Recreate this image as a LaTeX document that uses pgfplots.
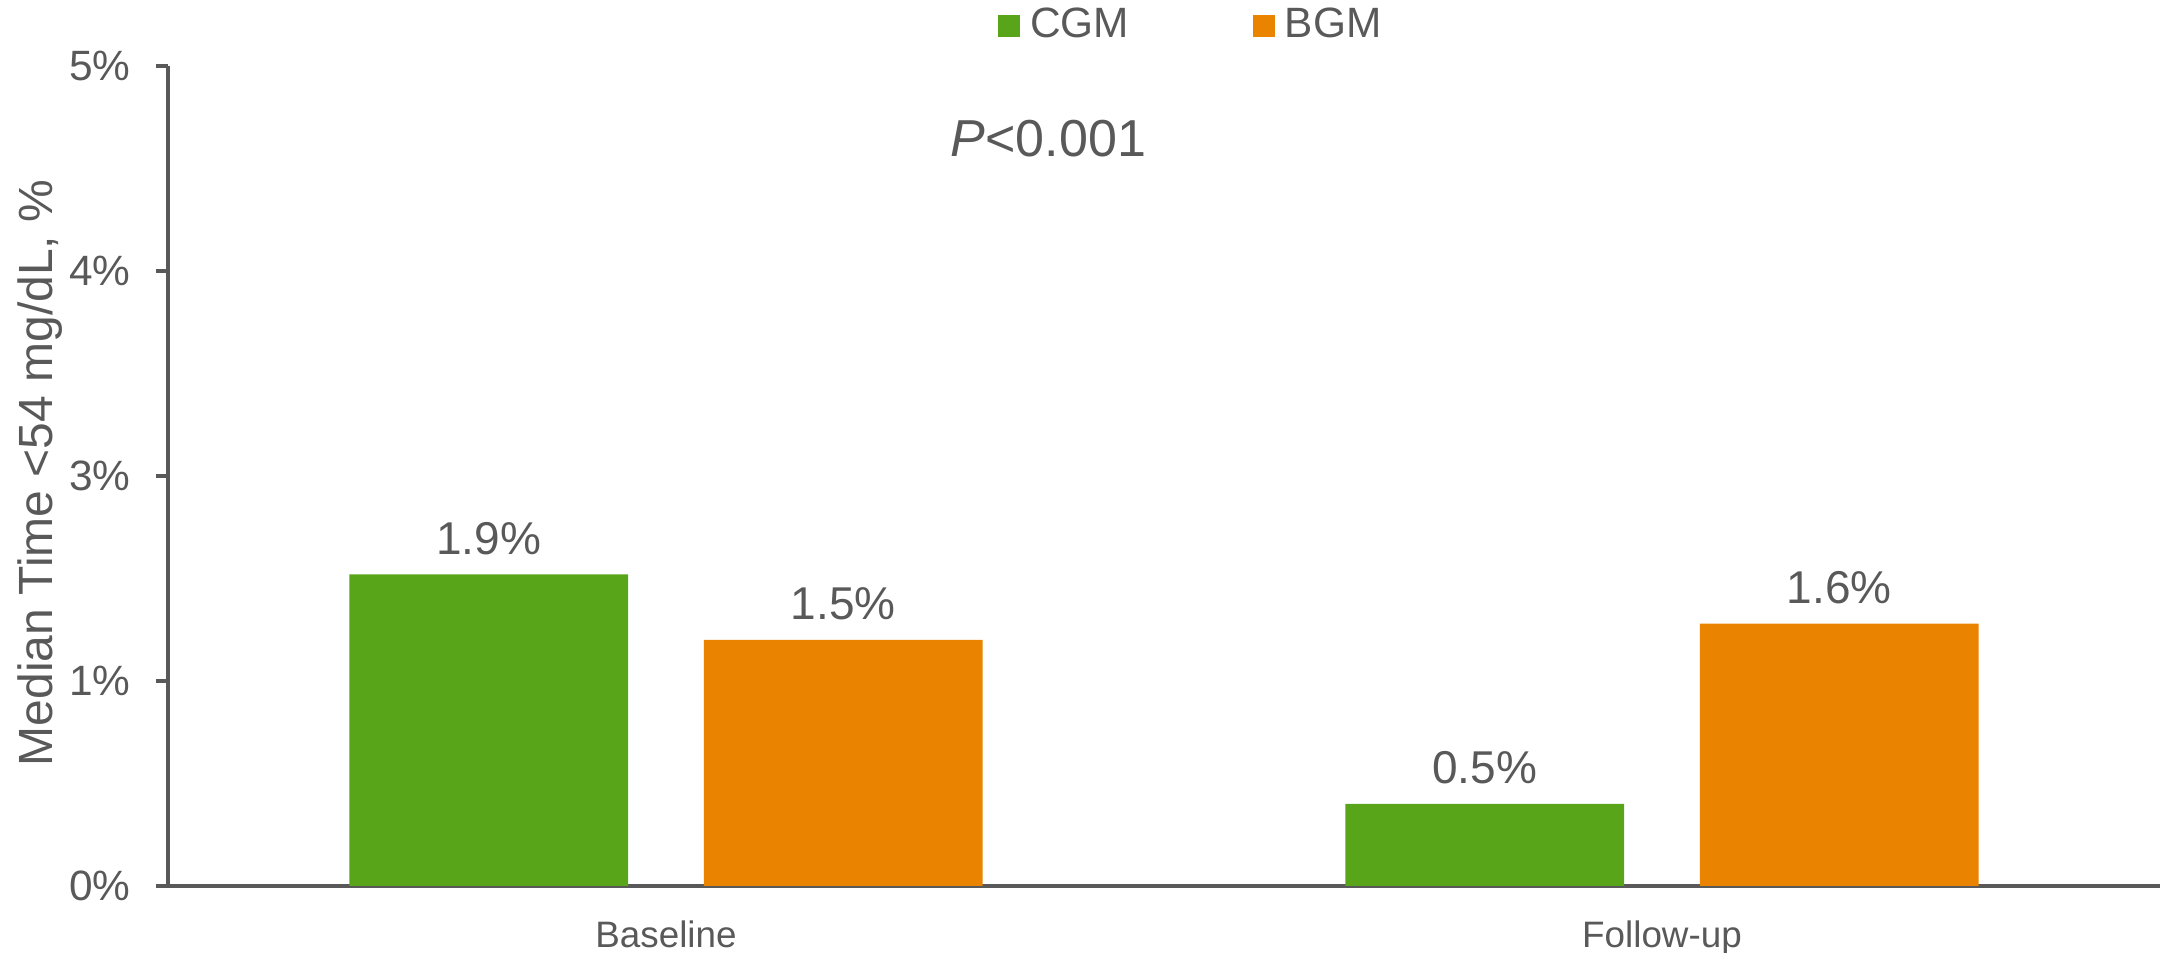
\documentclass[border=0pt]{standalone}
\usepackage{fontspec}
\setmainfont{Liberation Sans}
\usepackage{pgfplots}
\pgfplotsset{compat=1.18}
\definecolor{cgm}{HTML}{59A51A}
\definecolor{bgm}{HTML}{E98300}
\definecolor{txt}{HTML}{595959}

\begin{document}
\begin{tikzpicture}
\begin{axis}[
  name=ax,
  scale only axis,
  width=498pt, height=205pt,
  xmin=-0.5, xmax=1.5,
  ymin=0, ymax=5,
  axis x line=bottom, axis y line=left,
  axis line style={-, draw=txt, line width=0.8pt},
  xtick={0,1}, xticklabels={Baseline,Follow-up},
  xtick style={draw=none},
  xticklabel style={font=\fontsize{9.2}{9.2}\selectfont, text=txt, anchor=base, inner sep=0pt, yshift=-12.5pt},
  % axis runs 0--5 in steps of 1.25, labels rounded to whole percent
  ytick={0,1.25,2.5,3.75,5},
  yticklabels={0\%,1\%,3\%,4\%,5\%},
  ytick style={draw=txt, line width=0.8pt},
  tick align=outside, major tick length=3pt,
  yticklabel style={font=\fontsize{10.6}{10.6}\selectfont, text=txt, anchor=east, inner sep=0pt, xshift=-6.2pt},
  ylabel={Median Time <54 mg/dL, \%},
  ylabel style={font=\fontsize{12}{12}\selectfont, text=txt, at={(axis description cs:-0.0582,0.5037)}, anchor=base, inner sep=0pt},
  ybar, bar width=0.28,
  /pgf/number format/assume math mode=true,
  nodes near coords={\pgfmathprintnumber[fixed,fixed zerofill,precision=1]{\pgfplotspointmeta}\%},
  nodes near coords style={font=\fontsize{11.5}{11.5}\selectfont, text=txt, anchor=base, inner sep=0pt, yshift=5pt},
  legend columns=2,
  legend style={at={(axis description cs:0.4167,1.0488)}, anchor=west, draw=none, fill=none,
    inner sep=0pt, outer sep=0pt, font=\fontsize{10.6}{10.6}\selectfont, text=txt,
    nodes={inner sep=0pt},
    /tikz/every odd column/.append style={column sep=2.5pt},
    /tikz/every even column/.append style={column sep=31pt}},
]
\addplot[fill=cgm, draw=none, bar shift=-0.178,
  legend image code/.code={\fill[cgm] (0pt,-2.75pt) rectangle (5.5pt,2.75pt);}]
  coordinates {(0,1.9) (1,0.5)};
\addlegendentry{CGM}
\addplot[fill=bgm, draw=none, bar shift=0.178,
  legend image code/.code={\fill[bgm] (0pt,-2.75pt) rectangle (5.5pt,2.75pt);}]
  coordinates {(0,1.5) (1,1.6)};
\addlegendentry{BGM}
\node[anchor=base west, font=\fontsize{13}{13}\selectfont, text=txt, inner sep=0pt]
  at (axis description cs:0.3926,0.889) {\textit{P}<0.001};
\end{axis}
\pgfresetboundingbox
\path[use as bounding box] ([xshift=-42pt,yshift=-16.75pt]ax.south west) rectangle ([xshift=1pt,yshift=16.5pt]ax.north east);
\end{tikzpicture}
\end{document}
